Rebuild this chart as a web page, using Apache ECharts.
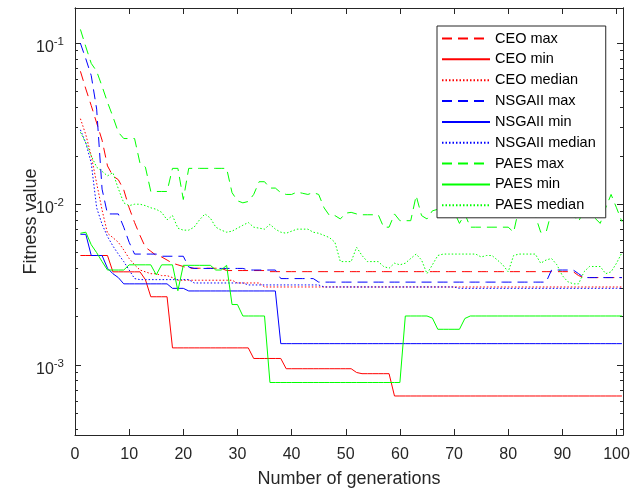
<!DOCTYPE html>
<html>
<head>
<meta charset="utf-8">
<script src="https://cdn.jsdelivr.net/npm/echarts/dist/echarts.min.js"></script>
<style>
  html, body { margin: 0; padding: 0; background: #fff; }
  #chart { width: 638px; height: 493px; }
</style>
</head>
<body>
<div id="chart"></div>
<script>
// generations 1..101
var gens = [];
for (var g = 1; g <= 101; g++) gens.push(g);

var names = ['CEO max', 'CEO min', 'CEO median', 'NSGAII max', 'NSGAII min', 'NSGAII median', 'PAES max', 'PAES min', 'PAES median'];

var ceoMax = [
  0.067, 0.052, 0.041, 0.032, 0.025, 0.0173, 0.015, 0.0142, 0.0123, 0.0095,
  0.0077, 0.0064, 0.0054, 0.0051, 0.0048, 0.0047, 0.0045, 0.0043, 0.0042, 0.0041,
  0.0040, 0.0040, 0.0040, 0.0040, 0.0040, 0.0040, 0.0040, 0.00387, 0.00387, 0.00387,
  0.00387, 0.00387, 0.00387, 0.00387, 0.00387, 0.00381, 0.00381, 0.00381, 0.00381, 0.00381,
  0.00381, 0.00381, 0.00381, 0.00381, 0.00381, 0.00381, 0.00381, 0.00381, 0.00381, 0.00381,
  0.00381, 0.00381, 0.00381, 0.00381, 0.00381, 0.00381, 0.00381, 0.00381, 0.00381, 0.00381,
  0.00381, 0.00381, 0.00381, 0.00381, 0.00381, 0.00381, 0.00381, 0.00381, 0.00381, 0.00381,
  0.00381, 0.00381, 0.00381, 0.00381, 0.00381, 0.00381, 0.00381, 0.00381, 0.00381, 0.00381,
  0.00381, 0.00381, 0.00381, 0.00381, 0.00381, 0.00381, 0.00381, 0.00381, 0.00381, 0.00381,
  0.00381, 0.00381, 0.0036, 0.0035, 0.0035, 0.0035, 0.0035, 0.0035, 0.0035, 0.0035,
  0.0035
];
var ceoMin = [
  0.0048, 0.0048, 0.0048, 0.0048, 0.0048, 0.0048, 0.0038, 0.0038, 0.0038, 0.0038,
  0.0038, 0.0038, 0.0034, 0.00266, 0.00266, 0.00266, 0.00266, 0.00128, 0.00128, 0.00128,
  0.00128, 0.00128, 0.00128, 0.00128, 0.00128, 0.00128, 0.00128, 0.00128, 0.00128, 0.00128,
  0.00128, 0.00128, 0.0011, 0.0011, 0.0011, 0.0011, 0.0011, 0.0011, 0.00095, 0.00095,
  0.00095, 0.00095, 0.00095, 0.00095, 0.00095, 0.00095, 0.00095, 0.00095, 0.00095, 0.00095,
  0.00095, 0.0009, 0.000885, 0.000885, 0.000885, 0.000885, 0.000885, 0.000885, 0.000643, 0.000643,
  0.000643, 0.000643, 0.000643, 0.000643, 0.000643, 0.000643, 0.000643, 0.000643, 0.000643, 0.000643,
  0.000643, 0.000643, 0.000643, 0.000643, 0.000643, 0.000643, 0.000643, 0.000643, 0.000643, 0.000643,
  0.000643, 0.000643, 0.000643, 0.000643, 0.000643, 0.000643, 0.000643, 0.000643, 0.000643, 0.000643,
  0.000643, 0.000643, 0.000643, 0.000643, 0.000643, 0.000643, 0.000643, 0.000643, 0.000643, 0.000643,
  0.000643
];
var ceoMed = [
  0.034, 0.027, 0.02, 0.0135, 0.0092, 0.0066, 0.0062, 0.0058, 0.0052, 0.0046,
  0.0042, 0.0039, 0.0038, 0.0037, 0.0037, 0.0036, 0.0036, 0.0035, 0.00337, 0.00337,
  0.00337, 0.00337, 0.00337, 0.00337, 0.00337, 0.00337, 0.00337, 0.00337, 0.00337, 0.00324,
  0.00324, 0.00324, 0.00324, 0.00324, 0.00306, 0.00306, 0.00306, 0.00306, 0.00306, 0.00306,
  0.00306, 0.00306, 0.00306, 0.00306, 0.00306, 0.00306, 0.00306, 0.00306, 0.00306, 0.00306,
  0.00306, 0.00306, 0.00306, 0.00306, 0.00306, 0.00306, 0.00306, 0.00306, 0.00306, 0.00306,
  0.00306, 0.00306, 0.00306, 0.00306, 0.00306, 0.00306, 0.00306, 0.00306, 0.00306, 0.00306,
  0.00306, 0.00306, 0.00306, 0.00306, 0.00306, 0.00306, 0.00306, 0.00306, 0.00306, 0.00306,
  0.00306, 0.00306, 0.00306, 0.00306, 0.00306, 0.00306, 0.00306, 0.00306, 0.00306, 0.00306,
  0.00306, 0.00306, 0.00306, 0.00306, 0.00306, 0.00306, 0.00306, 0.00306, 0.00306, 0.00306,
  0.00306
];
var nsgaMax = [
  0.1, 0.08, 0.063, 0.039, 0.0124, 0.0087, 0.0087, 0.0087, 0.0072, 0.0058,
  0.0049, 0.0049, 0.0049, 0.0049, 0.0049, 0.00475, 0.00475, 0.00475, 0.00475, 0.00475,
  0.00407, 0.00399, 0.00399, 0.00399, 0.00399, 0.00399, 0.00399, 0.00399, 0.00399, 0.00399,
  0.00399, 0.0039, 0.0039, 0.0039, 0.0039, 0.0039, 0.0039, 0.00345, 0.00345, 0.00345,
  0.00345, 0.00345, 0.00345, 0.00345, 0.00328, 0.00328, 0.00328, 0.00328, 0.00328, 0.00328,
  0.00328, 0.00328, 0.00328, 0.00328, 0.00328, 0.00328, 0.00328, 0.00328, 0.00328, 0.00328,
  0.00328, 0.00328, 0.00328, 0.00328, 0.00328, 0.00328, 0.00328, 0.00328, 0.00328, 0.00328,
  0.00328, 0.00328, 0.00328, 0.00328, 0.00328, 0.00328, 0.00328, 0.00328, 0.00328, 0.00328,
  0.00328, 0.00328, 0.00328, 0.00328, 0.00328, 0.00328, 0.00328, 0.0039, 0.0039, 0.0039,
  0.0039, 0.0039, 0.0037, 0.0035, 0.0035, 0.0035, 0.0035, 0.0035, 0.0035, 0.0035,
  0.0035
];
var nsgaMin = [
  0.0065, 0.0065, 0.0048, 0.0048, 0.0048, 0.004, 0.0037, 0.0035, 0.0032, 0.0032,
  0.0032, 0.0032, 0.0032, 0.0032, 0.0032, 0.0032, 0.0032, 0.003, 0.003, 0.003,
  0.00289, 0.00289, 0.00289, 0.00289, 0.00289, 0.00289, 0.00289, 0.00289, 0.00289, 0.00289,
  0.00289, 0.00289, 0.00289, 0.00289, 0.00289, 0.00289, 0.00289, 0.00136, 0.00136, 0.00136,
  0.00136, 0.00136, 0.00136, 0.00136, 0.00136, 0.00136, 0.00136, 0.00136, 0.00136, 0.00136,
  0.00136, 0.00136, 0.00136, 0.00136, 0.00136, 0.00136, 0.00136, 0.00136, 0.00136, 0.00136,
  0.00136, 0.00136, 0.00136, 0.00136, 0.00136, 0.00136, 0.00136, 0.00136, 0.00136, 0.00136,
  0.00136, 0.00136, 0.00136, 0.00136, 0.00136, 0.00136, 0.00136, 0.00136, 0.00136, 0.00136,
  0.00136, 0.00136, 0.00136, 0.00136, 0.00136, 0.00136, 0.00136, 0.00136, 0.00136, 0.00136,
  0.00136, 0.00136, 0.00136, 0.00136, 0.00136, 0.00136, 0.00136, 0.00136, 0.00136, 0.00136,
  0.00136
];
var nsgaMed = [
  0.029, 0.024, 0.018, 0.0095, 0.0075, 0.0063, 0.0055, 0.0049, 0.0044, 0.0039,
  0.00345, 0.0034, 0.0034, 0.0034, 0.0034, 0.0034, 0.0034, 0.0034, 0.0034, 0.0034,
  0.0034, 0.00324, 0.00324, 0.00324, 0.00324, 0.00324, 0.00324, 0.00324, 0.00324, 0.00324,
  0.00324, 0.00315, 0.00315, 0.00315, 0.00315, 0.00315, 0.00315, 0.00315, 0.00315, 0.00315,
  0.00315, 0.00315, 0.00315, 0.00315, 0.00315, 0.00306, 0.00306, 0.00306, 0.00306, 0.00306,
  0.00306, 0.00306, 0.00306, 0.00306, 0.00306, 0.00306, 0.00306, 0.00306, 0.00306, 0.00306,
  0.00306, 0.00306, 0.00306, 0.00306, 0.00306, 0.00306, 0.00306, 0.00306, 0.00306, 0.00306,
  0.003, 0.003, 0.003, 0.003, 0.003, 0.003, 0.003, 0.003, 0.003, 0.003,
  0.003, 0.003, 0.003, 0.003, 0.003, 0.003, 0.003, 0.003, 0.003, 0.003,
  0.003, 0.003, 0.003, 0.003, 0.003, 0.003, 0.003, 0.003, 0.003, 0.003,
  0.003
];
var paesMax = [
  0.122, 0.095, 0.075, 0.067, 0.054, 0.043, 0.035, 0.028, 0.0256, 0.0256,
  0.0256, 0.018, 0.017, 0.012, 0.012, 0.012, 0.012, 0.0167, 0.0167, 0.0107,
  0.0167, 0.0167, 0.0167, 0.0167, 0.0167, 0.0167, 0.0167, 0.0167, 0.0118, 0.0105,
  0.0102, 0.0104, 0.0115, 0.0138, 0.0138, 0.0126, 0.0126, 0.0118, 0.0115, 0.0115,
  0.0119, 0.0117, 0.0115, 0.0118, 0.0115, 0.0095, 0.0085, 0.0085, 0.0081, 0.0088,
  0.0089, 0.0087, 0.0086, 0.0086, 0.0086, 0.0086, 0.0072, 0.0072, 0.0087, 0.0079,
  0.0079, 0.0079, 0.0113, 0.0085, 0.0081, 0.0091, 0.0093, 0.0095, 0.0092, 0.009,
  0.0076, 0.0087, 0.0072, 0.0072, 0.0072, 0.0072, 0.0072, 0.0072, 0.0072, 0.0072,
  0.0067, 0.0095, 0.009, 0.0088, 0.0085, 0.0067, 0.0067, 0.009, 0.0105, 0.0098,
  0.0093, 0.0085, 0.0078, 0.0092, 0.0098, 0.0082, 0.0076, 0.0095, 0.0115, 0.0095,
  0.0078
];
var paesMin = [
  0.0066, 0.0067, 0.0056, 0.005, 0.0044, 0.0039, 0.0039, 0.0039, 0.0039, 0.0042,
  0.0042, 0.0042, 0.0042, 0.0042, 0.00364, 0.0042, 0.0042, 0.0042, 0.0029, 0.00417,
  0.00417, 0.00417, 0.00417, 0.00417, 0.00417, 0.0039, 0.0039, 0.00417, 0.00238, 0.00238,
  0.00202, 0.00202, 0.00202, 0.00202, 0.00202, 0.00078, 0.00078, 0.00078, 0.00078, 0.00078,
  0.00078, 0.00078, 0.00078, 0.00078, 0.00078, 0.00078, 0.00078, 0.00078, 0.00078, 0.00078,
  0.00078, 0.00078, 0.00078, 0.00078, 0.00078, 0.00078, 0.00078, 0.00078, 0.00078, 0.00078,
  0.00202, 0.00202, 0.00202, 0.00202, 0.00202, 0.00196, 0.00167, 0.00167, 0.00167, 0.00167,
  0.00167, 0.00195, 0.00202, 0.00202, 0.00202, 0.00202, 0.00202, 0.00202, 0.00202, 0.00202,
  0.00202, 0.00202, 0.00202, 0.00202, 0.00202, 0.00202, 0.00202, 0.00202, 0.00202, 0.00202,
  0.00202, 0.00202, 0.00202, 0.00202, 0.00202, 0.00202, 0.00202, 0.00202, 0.00202, 0.00202,
  0.00202
];
var paesMed = [
  0.028, 0.024, 0.02, 0.017, 0.016, 0.015, 0.0157, 0.0125, 0.0102, 0.0098,
  0.01, 0.01, 0.0098, 0.0095, 0.0093, 0.0089, 0.008, 0.0085, 0.0071, 0.0069,
  0.0069, 0.0072, 0.008, 0.0087, 0.0082, 0.0072, 0.0069, 0.0067, 0.0068, 0.0071,
  0.0074, 0.0077, 0.0072, 0.0071, 0.007, 0.0075, 0.007, 0.0067, 0.0066, 0.0068,
  0.007, 0.007, 0.007, 0.0067, 0.0066, 0.0064, 0.0062, 0.0058, 0.0044, 0.0044,
  0.0044, 0.0054, 0.0048, 0.0044, 0.0044, 0.0044, 0.0041, 0.004, 0.0043, 0.0042,
  0.0043, 0.0046, 0.0049, 0.0045, 0.0037, 0.0042, 0.0048, 0.0049, 0.0049, 0.0049,
  0.0049, 0.0049, 0.0049, 0.0049, 0.0047, 0.0048, 0.0048, 0.0045, 0.0042, 0.0038,
  0.0048, 0.0049, 0.0049, 0.0049, 0.0049, 0.0043, 0.0045, 0.0046, 0.0042, 0.0036,
  0.0033, 0.0032, 0.0032, 0.0038, 0.0041, 0.0041, 0.0041, 0.0037, 0.0038, 0.0043,
  0.005
];

var xTicks = [0, 10, 20, 30, 40, 50, 60, 70, 80, 90, 100];
var yMajor = [0.001, 0.01, 0.1];
var yMinor = [0.0004, 0.0005, 0.0006, 0.0007, 0.0008, 0.0009,
  0.002, 0.003, 0.004, 0.005, 0.006, 0.007, 0.008, 0.009,
  0.02, 0.03, 0.04, 0.05, 0.06, 0.07, 0.08, 0.09];

var allValues = [ceoMax, ceoMin, ceoMed, nsgaMax, nsgaMin, nsgaMed, paesMax, paesMin, paesMed];
var colors = ['#ff0000', '#ff0000', '#ff0000', '#0000ff', '#0000ff', '#0000ff', '#00ff00', '#00ff00', '#00ff00'];
var dashes = [[10, 6], 'solid', [1.5, 2], [10, 6], 'solid', [1.5, 2], [10, 6], 'solid', [1.5, 2]];

var font = '"Liberation Sans", Arial, Helvetica, sans-serif';
var axisColor = '#262626';
var yMin = 0.000368, yMax = 0.1657;
var xMax = 101.2;

var myChart = echarts.init(document.getElementById('chart'), null, { renderer: 'canvas' });

function logAxis(position, ticks, len, withLabels) {
  return {
    type: 'log',
    logBase: 10,
    min: yMin,
    max: yMax,
    position: position,
    axisLine: { show: true, lineStyle: { color: axisColor, width: 1 } },
    axisTick: { show: true, inside: true, length: len, customValues: ticks, lineStyle: { color: axisColor } },
    axisLabel: withLabels ? {
      show: true,
      customValues: yMajor,
      margin: 11,
      formatter: function (v) {
        return '{b|10}{s|' + Math.round(Math.log10(v)) + '}';
      },
      rich: {
        b: { fontSize: 16, color: axisColor, fontFamily: font, verticalAlign: 'middle', padding: [8, 0, 0, 0] },
        s: { fontSize: 11.5, color: axisColor, fontFamily: font, verticalAlign: 'middle', padding: [0, 0, 2, 0] }
      }
    } : { show: false },
    splitLine: { show: false },
    minorTick: { show: false }
  };
}

myChart.setOption({
  animation: false,
  backgroundColor: '#fff',
  grid: { left: 75, top: 8, right: 15, bottom: 53, containLabel: false },
  legend: {
    orient: 'vertical',
    left: 437,
    top: 26,
    padding: [5, 10, 5, 4],
    itemWidth: 48,
    itemHeight: 14,
    itemGap: 5.85,
    backgroundColor: '#fff',
    borderColor: axisColor,
    borderWidth: 1,
    itemStyle: { opacity: 0 },
    textStyle: { fontSize: 14.5, color: '#000', fontFamily: font },
    data: names
  },
  xAxis: [
    {
      type: 'value', min: 0, max: xMax, position: 'bottom',
      name: 'Number of generations', nameLocation: 'middle', nameGap: 35, nameMoveOverlap: false,
      nameTextStyle: { fontSize: 18, color: axisColor, fontFamily: font },
      axisLine: { show: true, lineStyle: { color: axisColor, width: 1 } },
      axisTick: { inside: true, length: 6, customValues: xTicks, lineStyle: { color: axisColor } },
      axisLabel: { customValues: xTicks, margin: 12, fontSize: 16, color: axisColor, fontFamily: font },
      splitLine: { show: false }
    },
    {
      type: 'value', min: 0, max: xMax, position: 'top',
      axisLine: { show: true, lineStyle: { color: axisColor, width: 1 } },
      axisTick: { inside: true, length: 6, customValues: xTicks, lineStyle: { color: axisColor } },
      axisLabel: { show: false },
      splitLine: { show: false }
    }
  ],
  yAxis: [
    Object.assign(logAxis('left', yMajor, 6, true), {
      name: 'Fitness value', nameLocation: 'middle', nameGap: 35, nameMoveOverlap: false,
      nameTextStyle: { fontSize: 18, color: axisColor, fontFamily: font }
    }),
    logAxis('left', yMinor, 3, false),
    logAxis('right', yMajor, 6, false),
    logAxis('right', yMinor, 3, false)
  ],
  series: names.map(function (n, i) {
    return {
      name: n,
      type: 'line',
      xAxisIndex: 0,
      yAxisIndex: 0,
      showSymbol: false,
      symbol: 'none',
      data: gens.map(function (g, j) { return [g, allValues[i][j]]; }),
      lineStyle: { color: colors[i], width: 1, type: dashes[i] },
      itemStyle: { color: colors[i] },
      emphasis: { disabled: true }
    };
  })
});
</script>
</body>
</html>
